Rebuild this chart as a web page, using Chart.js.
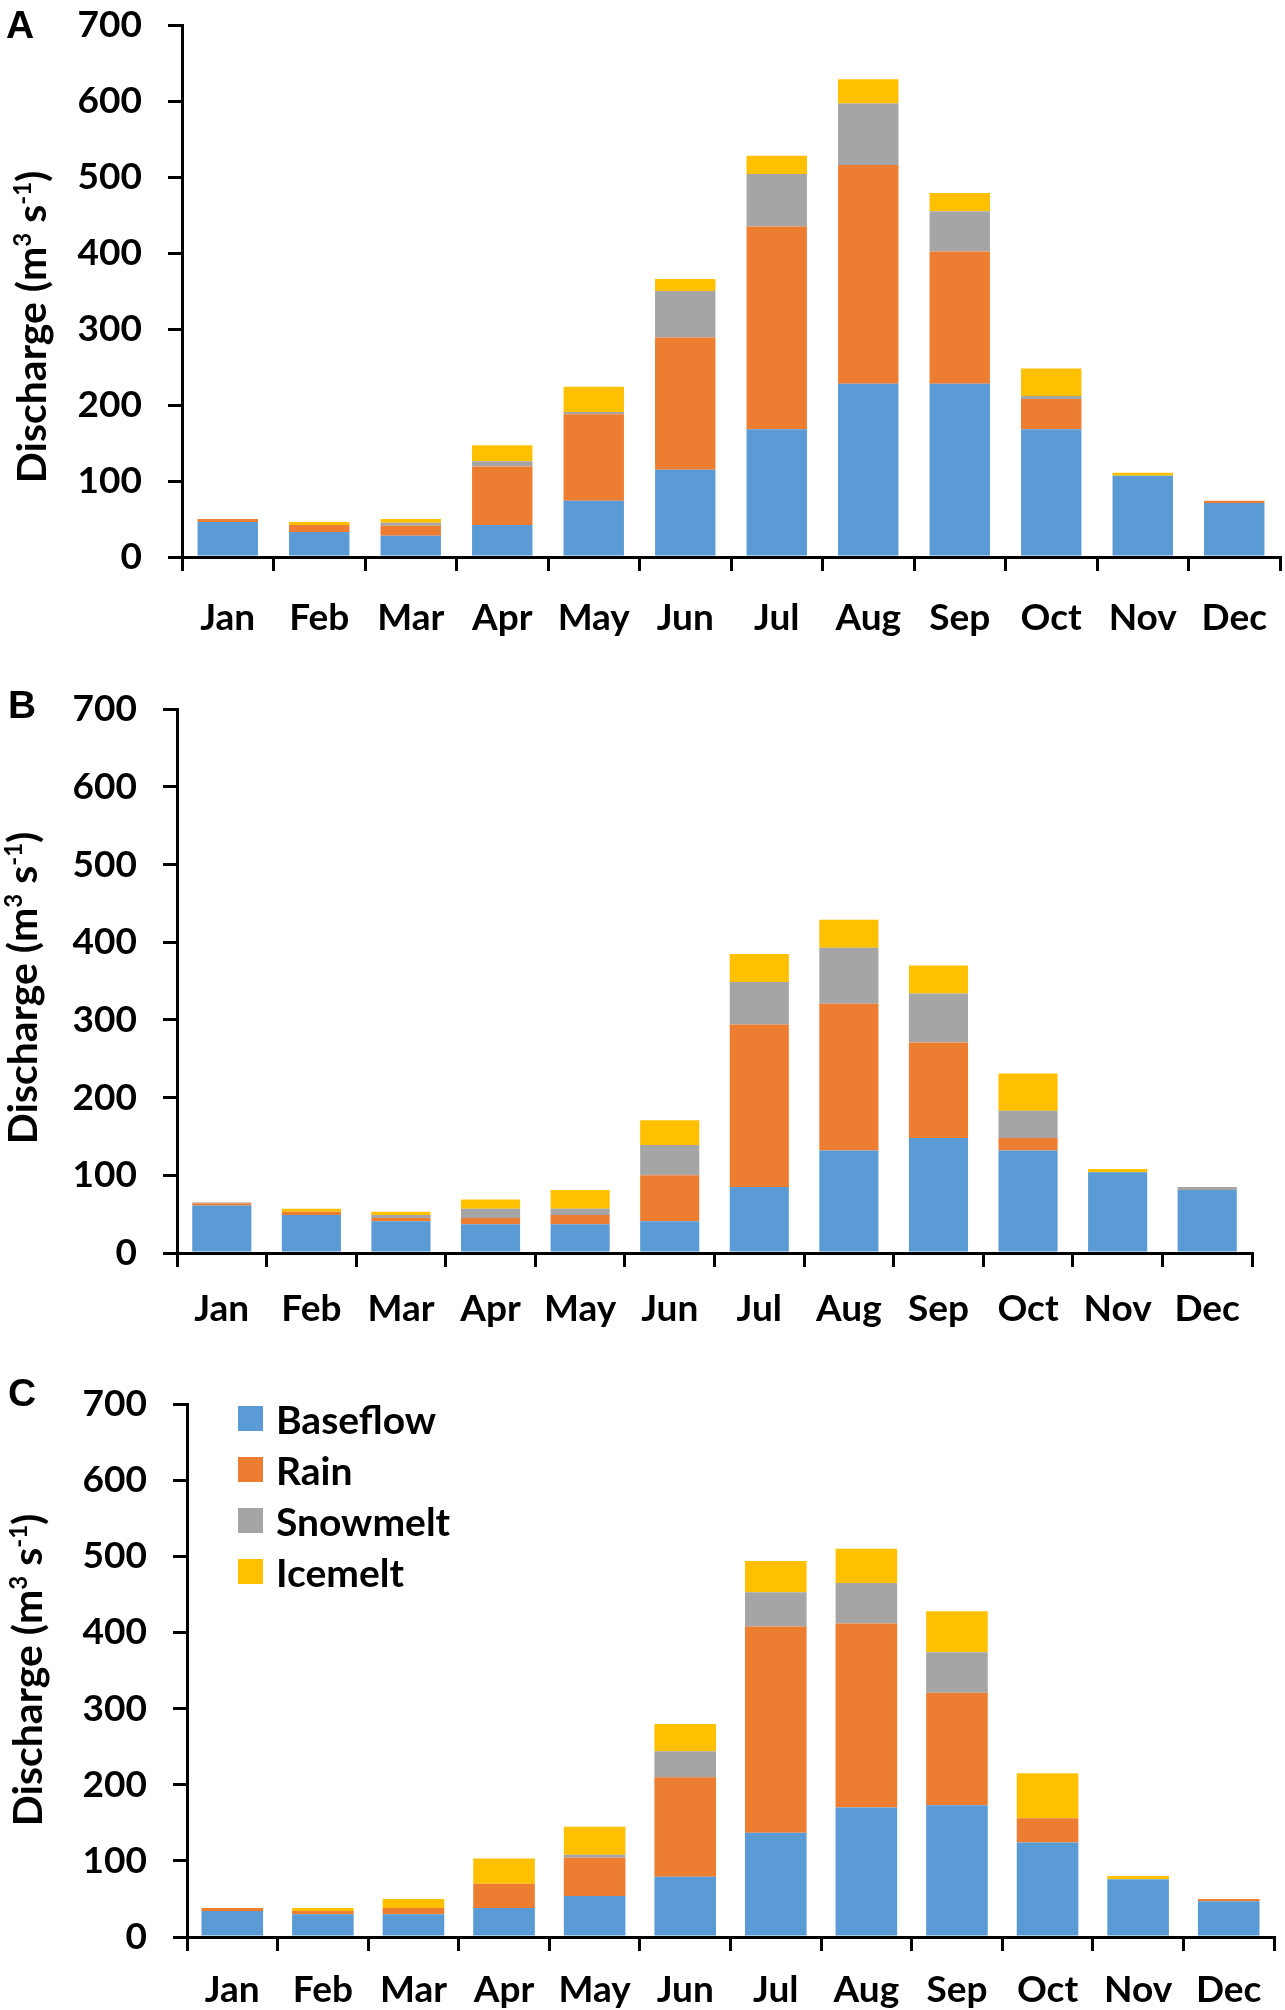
<!DOCTYPE html>
<html>
<head>
<meta charset="utf-8">
<script src="https://cdn.jsdelivr.net/npm/chart.js@4.4.1/dist/chart.umd.min.js"></script>
<style>
  html, body { margin: 0; background: #fff; }
  body { position: relative; width: 1285px; height: 2010px; overflow: hidden; }
  canvas { position: absolute; left: 0; }
  #leyenda { position: absolute; left: 238px; top: 1393px; font: 700 39px Lato, sans-serif; color: #000; }
  .item { display: flex; align-items: center; height: 51px; }
  .cuadro { width: 25px; height: 25px; margin-right: 13px; }
</style>
</head>
<body>
<canvas id="panelA"></canvas>
<canvas id="panelB"></canvas>
<canvas id="panelC"></canvas>
<div id="leyenda"></div>
<script>
const meses = ['Jan', 'Feb', 'Mar', 'Apr', 'May', 'Jun', 'Jul', 'Aug', 'Sep', 'Oct', 'Nov', 'Dec'];
const series = ['Baseflow', 'Rain', 'Snowmelt', 'Icemelt'];
const colores = ['#5B9BD5', '#ED7D31', '#A5A5A5', '#FFC000'];
const ejeY = [0, 100, 200, 300, 400, 500, 600, 700];

// panel A
const baseA = [46, 33, 28, 42, 74, 115, 168, 228, 228, 168, 107, 71];
const rainA = [4, 9, 13, 77, 114, 174, 267, 288, 174, 40, 0, 3];
const snowA = [0, 0, 4, 7, 3, 61, 69, 81, 53, 4, 0, 0];
const iceA = [0, 4, 5, 21, 33, 16, 24, 32, 24, 36, 4, 0];

// panel B
const baseB = [61, 49, 41, 37, 37, 41, 85, 132, 148, 132, 104, 81];
const rainB = [3, 4, 4, 8, 12, 59, 209, 189, 123, 16, 0, 0];
const snowB = [1, 0, 4, 12, 8, 39, 55, 72, 63, 35, 0, 4];
const iceB = [0, 4, 4, 12, 24, 32, 36, 36, 36, 48, 4, 0];

// panel C
const baseC = [34, 30, 30, 38, 54, 79, 137, 170, 173, 124, 76, 47];
const rainC = [4, 4, 8, 32, 50, 131, 271, 242, 148, 32, 0, 3];
const snowC = [0, 0, 0, 0, 4, 34, 45, 53, 53, 0, 0, 0];
const iceC = [0, 4, 12, 33, 37, 36, 41, 45, 54, 59, 4, 0];

// posicion de cada panel en la pagina
const paneles = [
  { id: 'panelA', letra: 'A', datos: [baseA, rainA, snowA, iceA],
    eje: 182, arriba: 17, abajo: 557, derecha: 1280, pad: 25, barra: 0.66,
    tituloX: 46, tituloY: 327, letraX: 6, letraY: 38 },
  { id: 'panelB', letra: 'B', datos: [baseB, rainB, snowB, iceB],
    eje: 177, arriba: 701, abajo: 1253, derecha: 1252, pad: 20, barra: 0.66,
    tituloX: 37, tituloY: 988, letraX: 8, letraY: 718 },
  { id: 'panelC', letra: 'C', datos: [baseC, rainC, snowC, iceC],
    eje: 187, arriba: 1396, abajo: 1937, derecha: 1274, pad: 17, barra: 0.68,
    tituloX: 42, tituloY: 1670, letraX: 8, letraY: 1406 }
];

const ANCHO = 1330;
const fuente = { family: 'Lato', size: 37, weight: 'bold' };

function rotulos(p, dy) {
  return {
    id: 'rotulos',
    afterDraw(chart) {
      const ctx = chart.ctx;
      ctx.save();
      ctx.fillStyle = '#000';
      ctx.font = 'bold 39px "Liberation Sans"';
      ctx.textBaseline = 'alphabetic';
      ctx.fillText(p.letra, p.letraX, p.letraY - dy);

      // titulo del eje y con superindices
      const partes = [['Discharge (m', 0], ['3', 1], [' s', 0], ['-1', 1], [')', 0]];
      const normal = 'bold 41px Lato';
      const sup = 'bold 24px Lato';
      let total = 0;
      partes.forEach(([t, s]) => { ctx.font = s ? sup : normal; total += ctx.measureText(t).width; });
      ctx.translate(p.tituloX, p.tituloY - dy);
      ctx.rotate(-Math.PI / 2);
      let x = -total / 2;
      partes.forEach(([t, s]) => {
        ctx.font = s ? sup : normal;
        ctx.fillText(t, x, s ? -15 : 0);
        x += ctx.measureText(t).width;
      });
      ctx.restore();
    }
  };
}

function crearPanel(p) {
  const canvas = document.getElementById(p.id);
  const dy = p.arriba - 40;
  const alto = 40 + (p.abajo - p.arriba) + 100;
  canvas.width = ANCHO;
  canvas.height = alto;
  canvas.style.top = dy + 'px';
  canvas.style.width = ANCHO + 'px';
  canvas.style.height = alto + 'px';

  new Chart(canvas, {
    type: 'bar',
    data: {
      labels: meses,
      datasets: p.datos.map((d, i) => ({
        label: series[i],
        data: d,
        backgroundColor: colores[i],
        borderWidth: 0,
        barPercentage: p.barra,
        categoryPercentage: 1
      }))
    },
    options: {
      responsive: false,
      animation: false,
      devicePixelRatio: 1,
      layout: { padding: { top: 40, left: 0, right: ANCHO - p.derecha, bottom: 0 } },
      plugins: { legend: { display: false }, tooltip: { enabled: false } },
      scales: {
        x: {
          stacked: true,
          grid: { drawOnChartArea: false, drawTicks: true, tickLength: 14, color: '#000', lineWidth: 3, offset: true },
          border: { display: true, color: '#000', width: 3 },
          ticks: { color: '#000', font: fuente, padding: p.pad, maxRotation: 0, autoSkip: false },
          afterFit: s => { s.height = 100; }
        },
        y: {
          stacked: true,
          min: 0,
          max: 700,
          afterBuildTicks: s => { s.ticks = ejeY.map(v => ({ value: v })); },
          grid: { drawOnChartArea: false, drawTicks: true, tickLength: 14, color: '#000', lineWidth: 3 },
          border: { display: true, color: '#000', width: 3 },
          ticks: { color: '#000', font: fuente, padding: 26 },
          afterFit: s => { s.width = p.eje; }
        }
      }
    },
    plugins: [rotulos(p, dy)]
  });
}

paneles.forEach(crearPanel);

// leyenda del panel C
const leyenda = document.getElementById('leyenda');
series.forEach((nombre, i) => {
  const item = document.createElement('div');
  item.className = 'item';
  item.innerHTML = `<span class="cuadro" style="background:${colores[i]}"></span><span>${nombre}</span>`;
  leyenda.appendChild(item);
});
</script>
</body>
</html>
